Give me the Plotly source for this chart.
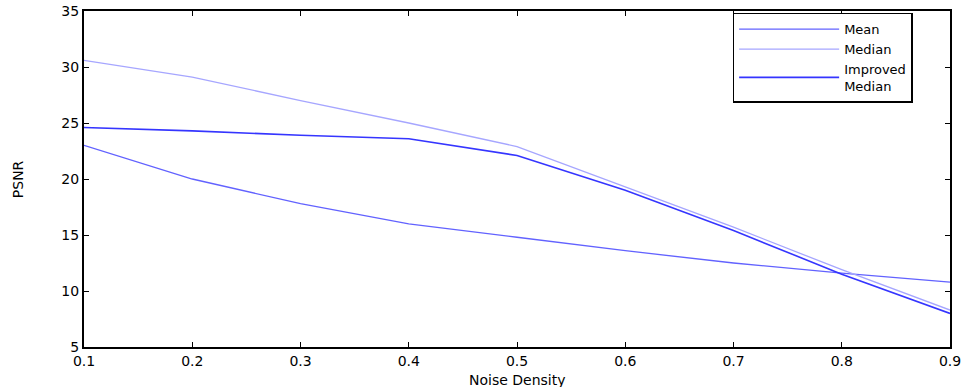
import plotly.graph_objects as go

noise = [0.1, 0.2, 0.3, 0.4, 0.5, 0.6, 0.7, 0.8, 0.9]
mean_psnr = [23.0, 20.0, 17.8, 16.0, 14.8, 13.6, 12.5, 11.6, 10.8]
median_psnr = [30.6, 29.1, 27.0, 25.0, 22.9, 19.3, 15.7, 11.9, 8.3]
improved_psnr = [24.6, 24.3, 23.9, 23.6, 22.1, 19.0, 15.4, 11.5, 8.0]
y_ticks = [5, 10, 15, 20, 25, 30, 35]

FONT = "DejaVu Sans, Liberation Sans, Arial"

fig = go.Figure()
fig.add_trace(go.Scatter(x=noise, y=mean_psnr, mode="lines", name="Mean",
                         line=dict(color="#6262ff", width=1.3)))
fig.add_trace(go.Scatter(x=noise, y=median_psnr, mode="lines", name="Median",
                         line=dict(color="#a6a6ff", width=1.3)))
fig.add_trace(go.Scatter(x=noise, y=improved_psnr, mode="lines", name="Improved<br>Median",
                         line=dict(color="#3535ff", width=1.6)))

axis_common = dict(showline=True, linecolor="black", linewidth=2, mirror="ticks",
                   ticks="inside", ticklen=5, tickcolor="black", showgrid=False,
                   zeroline=False, automargin=False,
                   tickfont=dict(family=FONT, size=14, color="black"))

fig.update_layout(
    width=969, height=387,
    margin=dict(l=84, r=19, t=11, b=40),
    plot_bgcolor="white", paper_bgcolor="white",
    showlegend=True,
    legend=dict(x=0.749, y=0.995, xanchor="left", yanchor="top",
                bordercolor="black", borderwidth=1.5, bgcolor="white",
                font=dict(family=FONT, size=13, color="black"),
                tracegroupgap=0, itemwidth=100),
    font=dict(family=FONT, color="black"),
    annotations=[
        dict(text="Noise Density", xref="paper", yref="paper", x=0.5, y=-0.097,
             xanchor="center", yanchor="middle", showarrow=False,
             font=dict(family=FONT, size=14, color="black")),
        dict(text="PSNR", xref="paper", yref="paper", x=-0.076, y=0.5,
             xanchor="center", yanchor="middle", showarrow=False, textangle=-90,
             font=dict(family=FONT, size=14, color="black")),
    ],
)
fig.update_xaxes(range=[0.1, 0.9], tickvals=noise, ticktext=[str(v) for v in noise],
                 **axis_common)
fig.update_yaxes(range=[5, 35], tickvals=y_ticks, **axis_common)

fig.write_html("out.html", config={"displayModeBar": False},
               post_script="document.body.style.margin='0px';")
